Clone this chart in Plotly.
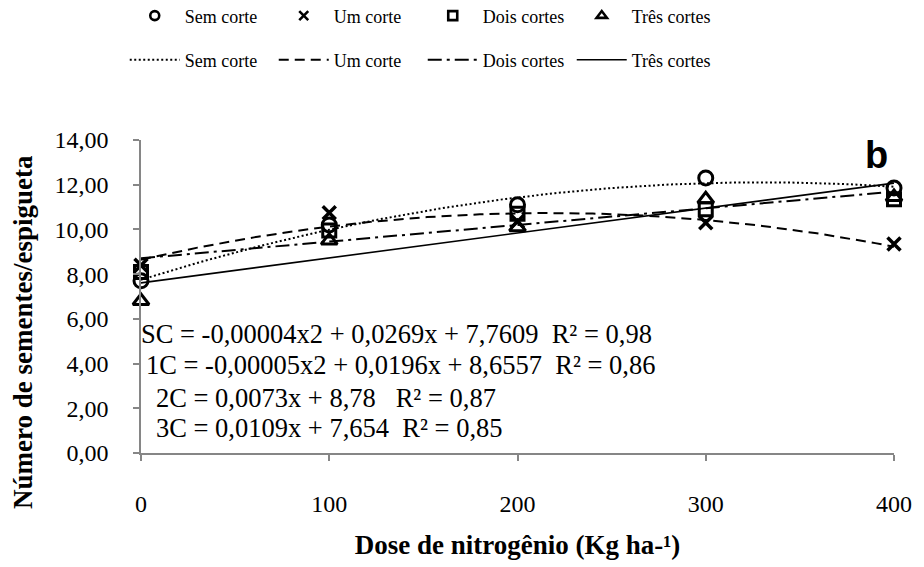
import numpy as np
import plotly.graph_objects as go

# ---------------- data ----------------
doses = [0, 100, 200, 300, 400]
x_tick_labels = ["0", "100", "200", "300", "400"]
y_tick_vals = [0, 2, 4, 6, 8, 10, 12, 14]
y_tick_labels = ["0,00", "2,00", "4,00", "6,00", "8,00", "10,00", "12,00", "14,00"]

series_names = ["Sem corte", "Um corte", "Dois cortes", "Três cortes"]
sem_corte = [7.70, 10.20, 11.10, 12.30, 11.85]
um_corte = [8.40, 10.75, 10.35, 10.30, 9.35]
dois_cortes = [8.10, 9.95, 10.70, 10.90, 11.35]
tres_cortes = [6.80, 9.50, 10.10, 11.35, 11.45]
fit_degrees = [2, 2, 1, 1]

equations = [
    "SC = -0,00004x2 + 0,0269x + 7,7609 \u00a0R² = 0,98",
    "1C = -0,00005x2 + 0,0196x + 8,6557 \u00a0R² = 0,86",
    "2C = 0,0073x + 8,78 \u00a0\u00a0R² = 0,87",
    "3C = 0,0109x + 7,654 \u00a0R² = 0,85",
]
# paper-relative anchor positions of the equation labels
eq_px = [-0.002, 0.004, 0.017, 0.017]
eq_py = [0.379, 0.281, 0.177, 0.079]

x_title = "Dose de nitrogênio (Kg ha-¹)"
y_title = "Número de sementes/espigueta"
panel_label = "b"

# ---------------- style ----------------
SERIF = "Liberation Serif, Times New Roman, serif"
symbols = ["circle-open", "x-thin-open", "square-open", "triangle-up-open"]
sizes = [14, 13, 13, 14]
dashes = ["2px,2.5px", "10px,6px", "14px,5px,3px,5px", "solid"]
line_widths = [2, 2, 2, 1.6]
axis_col = "#868686"

all_series = [sem_corte, um_corte, dois_cortes, tres_cortes]

fig = go.Figure()

# markers (data)
for name, vals, sym, sz in zip(series_names, all_series, symbols, sizes):
    fig.add_trace(go.Scatter(
        x=doses, y=vals, mode="markers", name=name, showlegend=False,
        cliponaxis=False,
        marker=dict(symbol=sym, size=sz, color="black",
                    line=dict(color="black", width=3 if "x" not in sym else 3.5)),
    ))

# trend lines computed from data
xx = np.linspace(0, 400, 201)
for name, vals, deg, dash, lw in zip(series_names, all_series, fit_degrees, dashes, line_widths):
    coefs = np.polyfit(doses, vals, deg)
    yy = np.polyval(coefs, xx)
    fig.add_trace(go.Scatter(
        x=xx, y=yy, mode="lines", name=name, legend="legend2",
        cliponaxis=False,
        line=dict(color="black", width=lw, dash=dash),
    ))

# legend-only marker entries (smaller)
for name, sym in zip(series_names, symbols):
    fig.add_trace(go.Scatter(
        x=[None], y=[None], mode="markers", name=name, legend="legend",
        marker=dict(symbol=sym, size=9, color="black",
                    line=dict(color="black", width=2.6)),
    ))

# equations
for txt, ex, ey in zip(equations, eq_px, eq_py):
    fig.add_annotation(x=ex, y=ey, xref="paper", yref="paper", text=txt, showarrow=False,
                       xanchor="left", yanchor="middle",
                       font=dict(family=SERIF, size=26.5, color="black"))

fig.add_annotation(x=0.977, y=0.953, xref="paper", yref="paper", text=panel_label,
                   showarrow=False, xanchor="center", yanchor="middle",
                   font=dict(family="Liberation Sans, Arial, sans-serif", size=38,
                             color="black", weight="bold"))

# y-axis title (placed as in the reference, slightly below centre)
fig.add_annotation(x=-0.156, y=0.385, xref="paper", yref="paper", text=y_title,
                   showarrow=False, textangle=-90, xanchor="center", yanchor="middle",
                   font=dict(family=SERIF, size=27, color="black", weight="bold"))

leg_common = dict(orientation="h", xanchor="left", yanchor="middle",
                  font=dict(family=SERIF, size=18, color="black"),
                  bgcolor="rgba(0,0,0,0)", entrywidth=84, entrywidthmode="pixels",
                  itemwidth=50, tracegroupgap=0, xref="container", yref="container")

fig.update_layout(
    width=924, height=567, autosize=False,
    margin=dict(l=141, r=25, t=140, b=110),
    paper_bgcolor="white", plot_bgcolor="white",
    font=dict(family=SERIF, color="black"),
    legend=dict(x=0.135, y=0.972, **leg_common),
    legend2=dict(x=0.135, y=0.894, **leg_common),
    xaxis=dict(range=[0, 400], tickvals=doses, ticktext=x_tick_labels,
               showline=True, linecolor=axis_col, linewidth=1.5,
               ticks="outside", ticklen=6, tickcolor=axis_col, tickwidth=1.5,
               showgrid=False, zeroline=False, ticklabelstandoff=22,
               tickfont=dict(family=SERIF, size=24, color="black"),
               title=dict(text=x_title, standoff=20,
                          font=dict(family=SERIF, size=27, color="black", weight="bold"))),
    yaxis=dict(range=[0, 14], tickvals=y_tick_vals, ticktext=y_tick_labels,
               showline=True, linecolor=axis_col, linewidth=1.5,
               ticks="outside", ticklen=6, tickcolor=axis_col, tickwidth=1.5,
               showgrid=False, zeroline=False, ticklabelstandoff=20,
               tickfont=dict(family=SERIF, size=24, color="black")),
)

fig.write_html("out.html")
